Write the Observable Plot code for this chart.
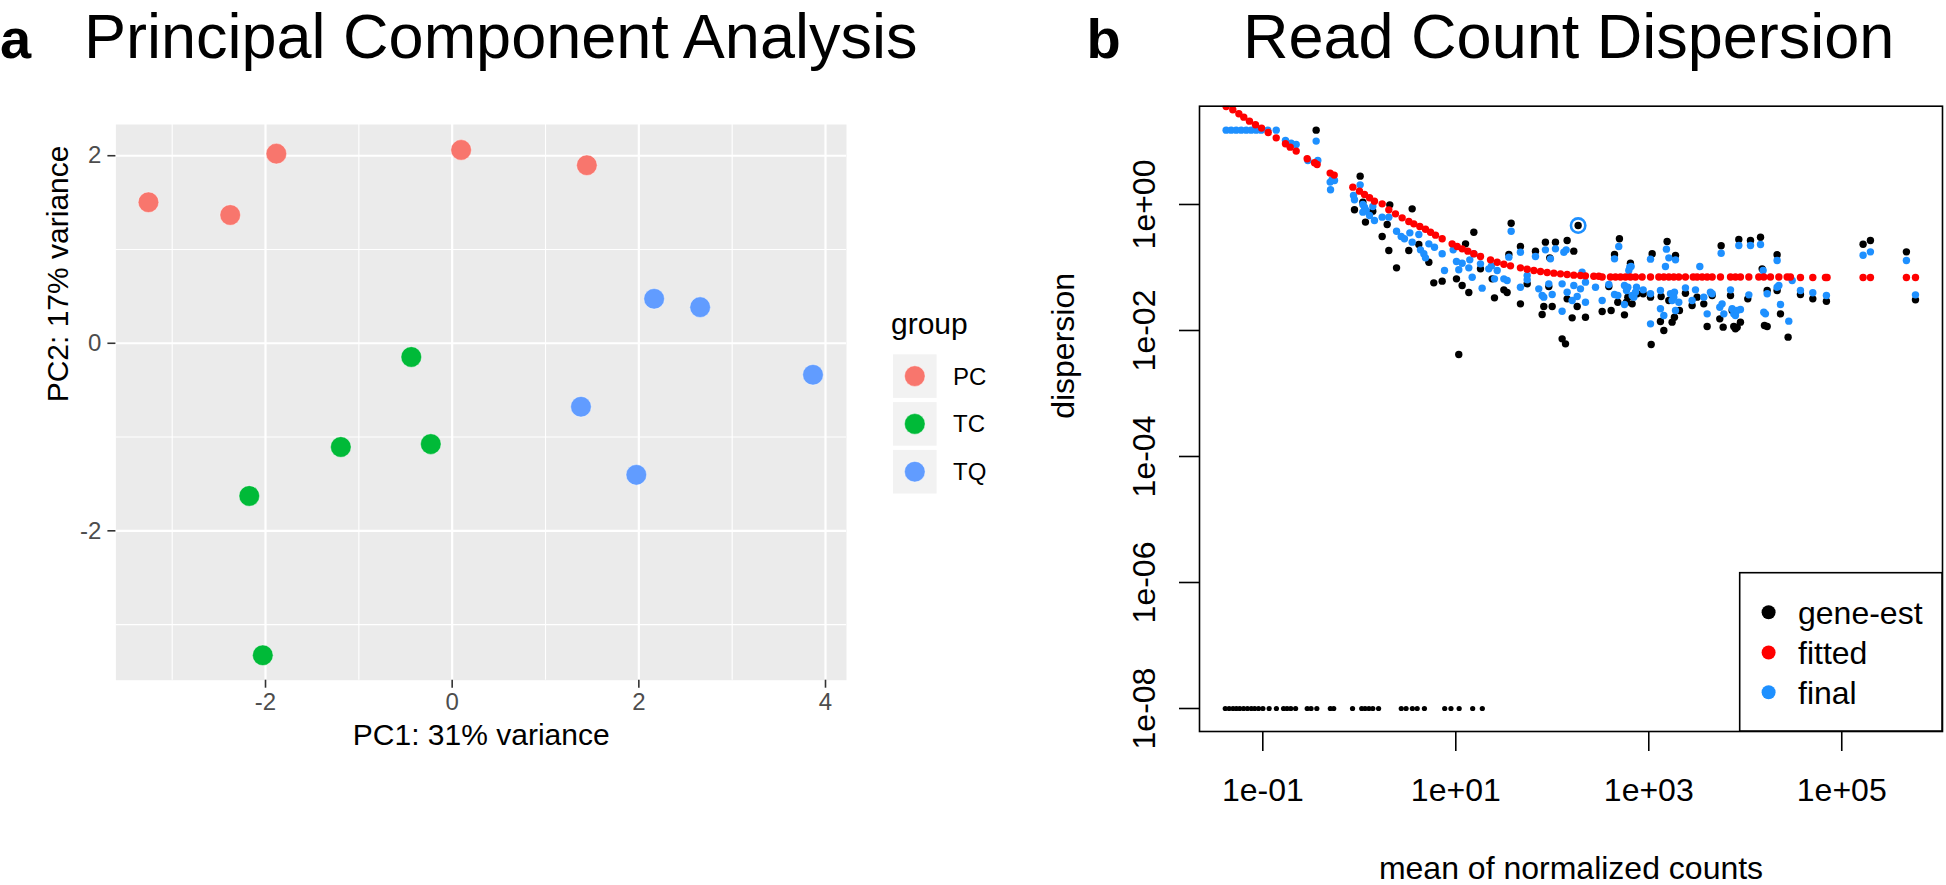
<!DOCTYPE html>
<html>
<head>
<meta charset="utf-8">
<script src="https://cdn.jsdelivr.net/npm/d3@7"></script>
<script src="https://cdn.jsdelivr.net/npm/@observablehq/plot@0.6"></script>
<style>
html, body { margin: 0; padding: 0; background: #ffffff; }
#root { position: relative; width: 1946px; height: 885px; overflow: hidden; font-family: "Liberation Sans", Arial, Helvetica, sans-serif; }
#root > svg, #root > figure { position: absolute; top: 0; margin: 0; }
</style>
</head>
<body>
<div id="root"></div>
<script>
const FONT = '"Liberation Sans", Arial, Helvetica, sans-serif';

// ---------------- Panel a: PCA ----------------
const groupNames = ["PC", "TC", "TQ"];
const groupColors = ["#F8766D", "#00BA38", "#619CFF"];
const pcPC1 = [-3.254, -2.378, -1.884, 0.096, 1.443];
const pcPC2 = [1.504, 1.368, 2.022, 2.062, 1.899];
const tcPC1 = [-0.438, -1.193, -0.229, -2.174, -2.029];
const tcPC2 = [-0.146, -1.106, -1.075, -1.628, -3.327];
const tqPC1 = [2.164, 2.657, 3.866, 1.380, 1.973];
const tqPC2 = [0.474, 0.385, -0.336, -0.677, -1.403];
const pcaXTicks = [-2, 0, 2, 4];
const pcaXMinor = [-3, -1, 1, 3];
const pcaYTicks = [-2, 0, 2];
const pcaYMinor = [-3, -1, 1];
const pcaXLabel = "PC1: 31% variance";
const pcaYLabel = "PC2: 17% variance";
const pcaLegendTitle = "group";

// ---------------- Panel b: dispersion (log10 mean, log10 dispersion) ----------------
const geneEstLog10 = [
  [-0.447,1.180],[0.009,0.450],[0.037,0.037],[0.140,-0.106],[-0.050,-0.084],[0.064,-0.280],
  [0.316,-0.006],[0.237,-0.508],[0.289,-0.318],[0.306,-0.730],[0.386,-1.006],[0.513,-0.730],[0.548,-0.069],
  [0.617,-0.635],[0.721,-0.916],[0.772,-1.244],[0.859,-1.217],[1.007,-1.180],[1.066,-1.286],[1.101,-0.625],
  [1.135,-1.397],[1.187,-0.440],[1.256,-1.022],[1.377,-1.180],[1.401,-1.482],[1.498,-1.355],[1.532,-1.397],
  [1.550,-0.794],[1.574,-0.297],[1.670,-0.667],[1.670,-1.577],[1.740,-1.260],[1.826,-0.741],[1.895,-1.746],
  [1.912,-1.619],[1.929,-0.598],[1.964,-1.302],[1.974,-0.847],[1.999,-1.619],[2.033,-0.598],[2.102,-2.133],
  [2.137,-2.212],[2.154,-0.572],[2.154,-1.498],[2.206,-1.799],[2.223,-0.741],[2.258,-1.619],[2.344,-1.789],
  [1.031,-2.381],
  [2.517,-1.699],[2.586,-1.302],[2.610,-1.683],[2.645,-0.794],[2.679,-1.551],[2.696,-0.545],[2.748,-1.752],
  [2.769,-1.551],[2.783,-1.471],[2.810,-0.932],[2.828,-1.577],[2.879,-1.418],[2.942,-1.418],[3.018,-1.471],
  [3.025,-2.223],[3.035,-0.783],[3.121,-1.857],[3.128,-1.461],[3.156,-2.000],[3.190,-0.588],[3.208,-1.524],
  [3.242,-1.868],[3.266,-1.789],[3.277,-0.810],[3.318,-1.683],[3.380,-1.408],[3.449,-1.603],[3.501,-1.471],
  [3.570,-1.577],[3.605,-1.937],[3.657,-1.445],[3.736,-1.815],[3.750,-0.656],[3.771,-1.947],[3.847,-1.445],
  [3.864,-1.683],[3.881,-1.937],[3.898,-1.974],[3.916,-1.947],[3.933,-0.556],[3.950,-1.868],[4.026,-1.498],
  [4.054,-0.572],[4.158,-0.519],[4.175,-1.022],[4.199,-1.921],[4.227,-1.937],[4.227,-1.365],[4.330,-1.365],
  [4.330,-0.799],[4.365,-1.736],[4.444,-2.106],
  [4.572,-1.429],[4.700,-1.498],[4.841,-1.535],[5.221,-0.630],[5.297,-0.572],[5.670,-0.752],[5.764,-1.514]
];
const geneEstFloorLog10Mean = [-1.389,-1.349,-1.309,-1.274,-1.239,-1.199,-1.159,-1.119,-1.084,-1.044,-0.999,
  -0.934,-0.859,-0.785,-0.749,-0.710,-0.660,-0.540,-0.500,-0.440,-0.300,-0.265,-0.070,0.025,0.060,0.100,0.140,
  0.200,0.435,0.485,0.550,0.600,0.675,0.885,0.950,1.035,1.175,1.275];
const geneEstFloorDispersion = 1e-8;
const finalLog10 = [
  [-1.380,1.180],[-1.328,1.180],[-1.276,1.180],[-1.224,1.180],[-1.172,1.180],[-1.121,1.180],[-1.069,1.180],
  [-1.017,1.180],[-0.948,1.180],[-0.861,1.180],
  [-0.765,1.016],[-0.706,0.974],[-0.654,0.953],[-0.447,1.006],[-0.533,0.699],[-0.430,0.699],[-0.302,0.355],
  [-0.281,0.392],[-0.257,0.381],[-0.298,0.233],[-0.060,0.143],[-0.050,0.074],[0.009,0.312],[0.037,0.000],
  [0.054,-0.042],[0.071,-0.095],[0.037,-0.122],[0.106,-0.174],[0.157,-0.254],[0.140,-0.032],
  [0.237,-0.201],[0.306,-0.201],[0.386,-0.424],[0.434,-0.508],[0.468,-0.545],[0.524,-0.450],[0.548,-0.598],
  [0.617,-0.477],[0.634,-0.720],[0.669,-0.783],[0.686,-0.847],[0.721,-0.625],[0.779,-0.678],[0.859,-0.783],
  [0.883,-1.048],[0.973,-0.720],[1.007,-0.905],[1.031,-1.037],[1.066,-0.932],[1.135,-1.006],[1.145,-0.879],
  [1.170,-1.154],[1.187,-0.783],[1.256,-0.942],[1.273,-1.328],[1.342,-1.022],[1.370,-0.974],[1.401,-1.180],
  [1.429,-1.048],[1.498,-1.180],[1.550,-0.836],[1.532,-1.207],[1.574,-0.424],[1.670,-1.313],[1.670,-0.757],
  [1.740,-1.127],[1.740,-1.196],[1.826,-0.826],[1.860,-1.339],[1.895,-1.445],[1.912,-1.471],[1.929,-0.720],
  [1.964,-1.260],[1.981,-0.863],[1.999,-1.429],[2.033,-0.704],[2.102,-1.694],[2.102,-1.260],[2.120,-0.757],
  [2.144,-0.720],[2.154,-1.392],[2.206,-1.524],[2.223,-1.286],[2.258,-1.461],[2.292,-1.339],[2.309,-1.074],
  [2.344,-1.551],[2.344,-1.233],[2.448,-1.313],
  [2.517,-1.524],[2.586,-1.270],[2.645,-0.863],[2.645,-1.429],[2.679,-1.445],[2.689,-0.667],[2.748,-1.286],
  [2.748,-1.588],[2.769,-1.365],[2.783,-1.313],[2.793,-1.048],[2.803,-0.995],[2.817,-0.985],[2.828,-1.445],
  [2.845,-1.471],[2.862,-1.392],[2.873,-1.313],[2.942,-1.355],[3.018,-0.868],[3.018,-1.895],[3.018,-1.418],
  [3.121,-1.365],[3.121,-1.656],[3.156,-1.762],[3.173,-0.985],[3.183,-0.709],[3.208,-0.847],[3.225,-1.418],
  [3.242,-1.524],[3.259,-1.471],[3.266,-1.392],[3.277,-0.879],[3.277,-1.683],[3.311,-1.551],[3.380,-1.323],
  [3.449,-1.524],[3.484,-1.355],[3.529,-0.985],[3.570,-1.471],[3.605,-1.736],[3.639,-1.392],[3.657,-1.418],
  [3.736,-1.630],[3.750,-0.773],[3.760,-1.577],[3.778,-1.736],[3.847,-1.355],[3.864,-1.656],[3.881,-1.736],
  [3.898,-1.762],[3.916,-1.683],[3.933,-0.651],[3.950,-1.667],[4.037,-1.434],[4.054,-0.651],[4.158,-0.635],
  [4.185,-1.048],[4.192,-1.709],[4.209,-1.736],[4.227,-1.418],[4.330,-1.313],[4.330,-0.889],[4.348,-1.286],
  [4.365,-1.588],[4.451,-1.852],[4.486,-1.207],
  [4.572,-1.365],[4.700,-1.402],[4.841,-1.445],[5.221,-0.805],[5.297,-0.752],[5.670,-0.889],[5.764,-1.434]
];
const fittedLog10 = [
  [-1.380,1.556],[-1.311,1.503],[-1.248,1.439],[-1.197,1.386],[-1.138,1.323],[-1.076,1.265],[-1.013,1.212],
  [-0.944,1.143],[-0.861,1.058],[-0.765,0.963],[-0.716,0.910],[-0.654,0.847],[-0.540,0.725],[-0.464,0.662],
  [-0.437,0.635],[-0.302,0.498],[-0.260,0.466],[-0.067,0.275],[0.002,0.212],[0.054,0.159],[0.106,0.106],
  [0.157,0.053],
  [0.237,0.010],[0.306,-0.085],[0.375,-0.149],[0.444,-0.212],[0.513,-0.270],[0.565,-0.307],[0.627,-0.350],
  [0.686,-0.392],[0.738,-0.440],[0.790,-0.487],[0.859,-0.545],[0.962,-0.625],[1.014,-0.667],[1.066,-0.704],
  [1.125,-0.741],[1.187,-0.783],[1.256,-0.826],[1.360,-0.879],[1.429,-0.916],[1.498,-0.948],[1.567,-0.974],
  [1.670,-1.006],[1.740,-1.027],[1.809,-1.048],[1.878,-1.064],[1.947,-1.080],[2.016,-1.090],[2.085,-1.101],
  [2.154,-1.112],[2.223,-1.122],[2.292,-1.127],[2.344,-1.133],[2.430,-1.138],[2.482,-1.140],
  [2.517,-1.150],[2.603,-1.150],[2.655,-1.150],[2.707,-1.150],[2.759,-1.150],[2.810,-1.150],[2.862,-1.150],
  [2.931,-1.150],[3.018,-1.150],[3.104,-1.150],[3.156,-1.150],[3.208,-1.150],[3.259,-1.150],[3.311,-1.150],
  [3.380,-1.150],[3.460,-1.150],[3.501,-1.150],[3.553,-1.150],[3.605,-1.150],[3.657,-1.150],[3.743,-1.150],
  [3.847,-1.150],[3.898,-1.150],[3.950,-1.150],[4.037,-1.150],[4.140,-1.150],[4.192,-1.150],[4.261,-1.150],
  [4.348,-1.150],[4.434,-1.150],[4.468,-1.150],
  [4.572,-1.160],[4.700,-1.160],[4.831,-1.160],[4.848,-1.160],[5.221,-1.160],[5.297,-1.160],[5.670,-1.160],
  [5.764,-1.160]
];
const outlierLog10 = [[2.268, -0.334]];
const dispXTicks = [1e-1, 1e1, 1e3, 1e5];
const dispXTickLabels = ["1e-01", "1e+01", "1e+03", "1e+05"];
const dispYTicks = [1, 1e-2, 1e-4, 1e-6, 1e-8];
const dispYTickLabels = ["1e+00", "1e-02", "1e-04", "1e-06", "1e-08"];
const dispXLabel = "mean of normalized counts";
const dispYLabel = "dispersion";
const dispSeries = ["gene-est", "fitted", "final"];
const dispColors = ["#000000", "#FF0000", "#1E90FF"];

// ---------------- Build tables ----------------
const pca = [];
[[pcPC1, pcPC2], [tcPC1, tcPC2], [tqPC1, tqPC2]].forEach(([xs, ys], g) =>
  xs.forEach((x, i) => pca.push({group: groupNames[g], pc1: x, pc2: ys[i]})));
const toRow = ([lm, ld]) => ({mean: 10 ** lm, disp: 10 ** ld});
const geneEst = geneEstLog10.map(toRow);
const geneFloor = geneEstFloorLog10Mean.map(lm => ({mean: 10 ** lm, disp: geneEstFloorDispersion}));
const finalRows = finalLog10.map(toRow);
const fittedRows = fittedLog10.map(toRow);
const outlierRows = outlierLog10.map(toRow);

const root = document.getElementById("root");

// ---------------- Panel a plot ----------------
const pcaPlot = Plot.plot({
  width: 1000, height: 885,
  marginLeft: 115.4, marginRight: 154, marginTop: 124, marginBottom: 205.3,
  style: {fontFamily: FONT, background: "transparent"},
  x: {domain: [-3.603, 4.225]},
  y: {domain: [-3.593, 2.333]},
  color: {domain: groupNames, range: groupColors},
  marks: [
    Plot.frame({fill: "#EBEBEB", stroke: "none"}),
    Plot.gridX(pcaXMinor, {stroke: "#FFFFFF", strokeOpacity: 1, strokeWidth: 1.1}),
    Plot.gridY(pcaYMinor, {stroke: "#FFFFFF", strokeOpacity: 1, strokeWidth: 1.1}),
    Plot.gridX(pcaXTicks, {stroke: "#FFFFFF", strokeOpacity: 1, strokeWidth: 2.2}),
    Plot.gridY(pcaYTicks, {stroke: "#FFFFFF", strokeOpacity: 1, strokeWidth: 2.2}),
    Plot.dot(pca, {x: "pc1", y: "pc2", fill: "group", r: 10.3, stroke: "#FFFFFF", strokeWidth: 0.6, strokeOpacity: 0.7}),
    Plot.axisX(pcaXTicks, {tickSize: 8, tickPadding: 5, fontSize: 24, fill: "#4D4D4D", stroke: "#333333", strokeWidth: 1.6, tickFormat: d => String(d), label: null}),
    Plot.axisY(pcaYTicks, {tickSize: 8, tickPadding: 6.5, fontSize: 24, fill: "#4D4D4D", stroke: "#333333", strokeWidth: 1.6, tickFormat: d => String(d), label: null}),
    Plot.text([pcaXLabel], {text: d => d, frameAnchor: "bottom", dy: 65, lineAnchor: "bottom", fontSize: 30, fill: "#000000"}),
    Plot.text([pcaYLabel], {text: d => d, frameAnchor: "left", rotate: -90, dx: -48.4, lineAnchor: "bottom", fontSize: 30, fill: "#000000"})
  ]
});
pcaPlot.style.left = "0px";
root.appendChild(pcaPlot);

// ---------------- Panel b plot ----------------
const xLab = new Map(dispXTicks.map((v, i) => [v, dispXTickLabels[i]]));
const yLab = new Map(dispYTicks.map((v, i) => [v, dispYTickLabels[i]]));
const dispPlot = Plot.plot({
  width: 946, height: 885,
  marginLeft: 199, marginRight: 4, marginTop: 105.7, marginBottom: 154,
  style: {fontFamily: FONT, background: "transparent"},
  x: {type: "log", domain: [10 ** -1.656, 10 ** 6.044]},
  y: {type: "log", domain: [10 ** -8.365, 10 ** 1.56]},
  marks: [
    Plot.dot(geneEst, {x: "mean", y: "disp", r: 3.7, fill: dispColors[0], clip: true}),
    Plot.dot(geneFloor, {x: "mean", y: "disp", r: 2.6, fill: dispColors[0], clip: true}),
    Plot.dot(outlierRows, {x: "mean", y: "disp", r: 3.7, fill: dispColors[0], clip: true}),
    Plot.dot(finalRows, {x: "mean", y: "disp", r: 3.7, fill: dispColors[2], clip: true}),
    Plot.dot(outlierRows, {x: "mean", y: "disp", r: 7.2, fill: "none", stroke: dispColors[2], strokeWidth: 2.6, clip: true}),
    Plot.dot(fittedRows, {x: "mean", y: "disp", r: 3.7, fill: dispColors[1], clip: true}),
    Plot.frame({stroke: "#000000", strokeWidth: 1.6}),
    Plot.axisX(dispXTicks, {tickSize: 20, tickPadding: 27, fontSize: 32, fill: "#000000", stroke: "#000000", strokeWidth: 1.6, tickFormat: d => xLab.get(d), label: null}),
    Plot.axisY(dispYTicks, {tickSize: 20, tickPadding: 25, tickRotate: -90, fontSize: 32, fill: "#000000", stroke: "#000000", strokeWidth: 1.6, tickFormat: d => yLab.get(d), label: null}),
    Plot.text([dispXLabel], {text: d => d, frameAnchor: "bottom", dy: 147, lineAnchor: "bottom", fontSize: 32, fill: "#000000"}),
    Plot.text([dispYLabel], {text: d => d, frameAnchor: "left", rotate: -90, dx: -126, lineAnchor: "bottom", fontSize: 32, fill: "#000000"})
  ]
});
dispPlot.style.left = "1000px";
root.appendChild(dispPlot);

// ---------------- Overlay: titles and legends ----------------
const ov = d3.create("svg").attr("width", 1946).attr("height", 885)
  .style("position", "absolute").style("left", "0px").style("top", "0px")
  .style("pointer-events", "none").style("font-family", FONT);

const titles = [
  {t: "a", x: 0, size: 56, w: "bold"},
  {t: "Principal Component Analysis", x: 84, size: 63, w: "normal"},
  {t: "b", x: 1086.5, size: 56, w: "bold"},
  {t: "Read Count Dispersion", x: 1243, size: 63, w: "normal"}
];
ov.selectAll("text.title").data(titles).join("text").attr("class", "title")
  .attr("x", d => d.x).attr("y", 57.5).attr("font-size", d => d.size).attr("font-weight", d => d.w)
  .attr("fill", "#000").text(d => d.t);

// Legend a
ov.append("text").attr("x", 891).attr("y", 334.3).attr("font-size", 30).attr("fill", "#000").text(pcaLegendTitle);
const keyTop = 354.3, keyStep = 47.8, keySize = 43.6;
groupNames.forEach((g, i) => {
  const y0 = keyTop + i * keyStep;
  ov.append("rect").attr("x", 893).attr("y", y0).attr("width", keySize).attr("height", keySize).attr("fill", "#F2F2F2");
  ov.append("circle").attr("cx", 893 + keySize / 2).attr("cy", y0 + keySize / 2).attr("r", 10.3)
    .attr("fill", groupColors[i]).attr("stroke", "#FFFFFF").attr("stroke-width", 0.6).attr("stroke-opacity", 0.7);
  ov.append("text").attr("x", 953).attr("y", y0 + keySize / 2).attr("dy", "0.35em")
    .attr("font-size", 24).attr("fill", "#000").text(g);
});

// Legend b
ov.append("rect").attr("x", 1739.7).attr("y", 572.7).attr("width", 1942 - 1739.7).attr("height", 731 - 572.7)
  .attr("fill", "#FFFFFF").attr("stroke", "#000").attr("stroke-width", 1.6);
const legY = [612.3, 652.5, 692.3];
dispSeries.forEach((s, i) => {
  ov.append("circle").attr("cx", 1768.6).attr("cy", legY[i]).attr("r", 7).attr("fill", dispColors[i]);
  ov.append("text").attr("x", 1798).attr("y", legY[i]).attr("dy", "0.35em").attr("font-size", 32)
    .attr("fill", "#000").text(s);
});

root.appendChild(ov.node());
</script>
</body>
</html>
